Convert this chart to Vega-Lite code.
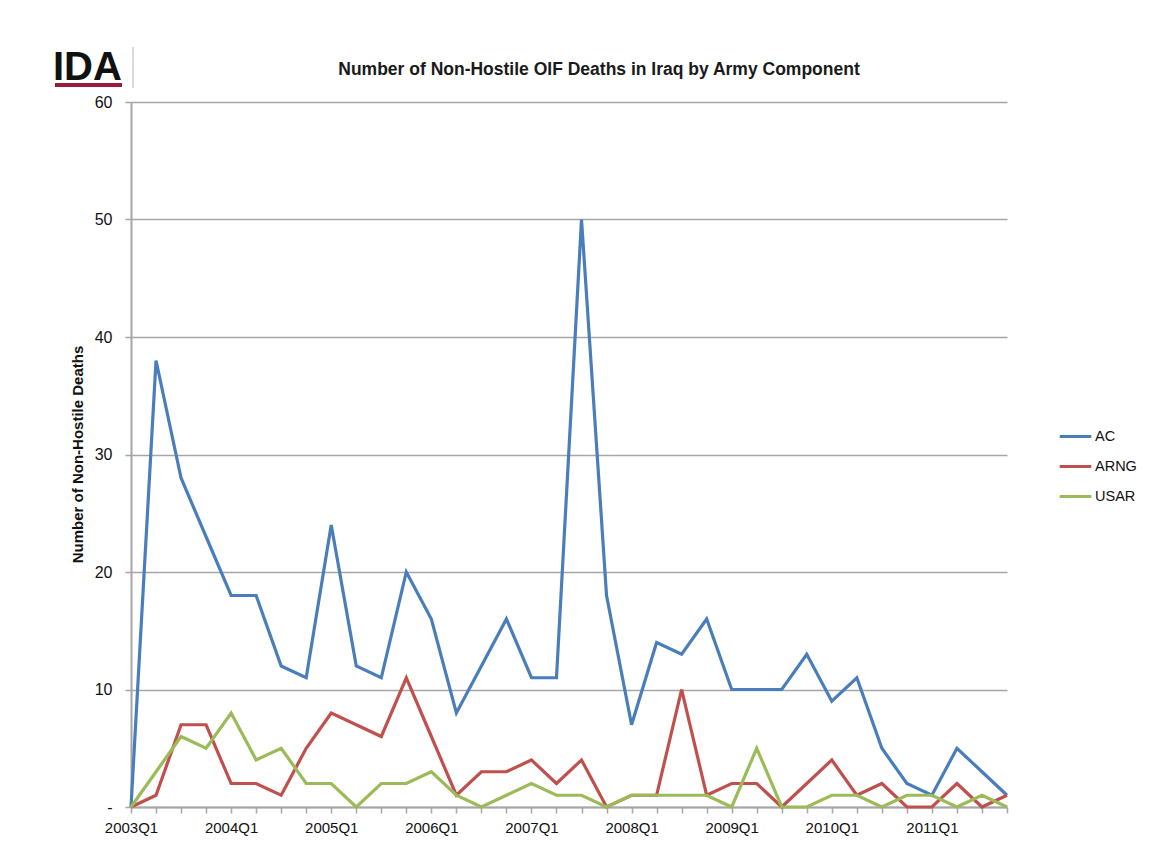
{
  "$schema": "https://vega.github.io/schema/vega-lite/v6.json",
  "width": 876,
  "height": 705,
  "autosize": {"type": "none"},
  "padding": {"left": 131, "top": 102, "right": 167, "bottom": 34},
  "background": "#ffffff",
  "title": {
    "text": "Number of Non-Hostile OIF Deaths in Iraq by Army Component",
    "anchor": "middle",
    "frame": "group",
    "dx": 30,
    "dy": 50,
    "offset": 18,
    "font": "Liberation Sans",
    "fontSize": 17.5,
    "fontWeight": "bold",
    "color": "#1a1a1a"
  },
  "data": {
    "values": [
      {"q": "2003Q1", "AC": 0, "ARNG": 0, "USAR": 0},
      {"q": "2003Q2", "AC": 38, "ARNG": 1, "USAR": 3},
      {"q": "2003Q3", "AC": 28, "ARNG": 7, "USAR": 6},
      {"q": "2003Q4", "AC": 23, "ARNG": 7, "USAR": 5},
      {"q": "2004Q1", "AC": 18, "ARNG": 2, "USAR": 8},
      {"q": "2004Q2", "AC": 18, "ARNG": 2, "USAR": 4},
      {"q": "2004Q3", "AC": 12, "ARNG": 1, "USAR": 5},
      {"q": "2004Q4", "AC": 11, "ARNG": 5, "USAR": 2},
      {"q": "2005Q1", "AC": 24, "ARNG": 8, "USAR": 2},
      {"q": "2005Q2", "AC": 12, "ARNG": 7, "USAR": 0},
      {"q": "2005Q3", "AC": 11, "ARNG": 6, "USAR": 2},
      {"q": "2005Q4", "AC": 20, "ARNG": 11, "USAR": 2},
      {"q": "2006Q1", "AC": 16, "ARNG": 6, "USAR": 3},
      {"q": "2006Q2", "AC": 8, "ARNG": 1, "USAR": 1},
      {"q": "2006Q3", "AC": 12, "ARNG": 3, "USAR": 0},
      {"q": "2006Q4", "AC": 16, "ARNG": 3, "USAR": 1},
      {"q": "2007Q1", "AC": 11, "ARNG": 4, "USAR": 2},
      {"q": "2007Q2", "AC": 11, "ARNG": 2, "USAR": 1},
      {"q": "2007Q3", "AC": 50, "ARNG": 4, "USAR": 1},
      {"q": "2007Q4", "AC": 18, "ARNG": 0, "USAR": 0},
      {"q": "2008Q1", "AC": 7, "ARNG": 1, "USAR": 1},
      {"q": "2008Q2", "AC": 14, "ARNG": 1, "USAR": 1},
      {"q": "2008Q3", "AC": 13, "ARNG": 10, "USAR": 1},
      {"q": "2008Q4", "AC": 16, "ARNG": 1, "USAR": 1},
      {"q": "2009Q1", "AC": 10, "ARNG": 2, "USAR": 0},
      {"q": "2009Q2", "AC": 10, "ARNG": 2, "USAR": 5},
      {"q": "2009Q3", "AC": 10, "ARNG": 0, "USAR": 0},
      {"q": "2009Q4", "AC": 13, "ARNG": 2, "USAR": 0},
      {"q": "2010Q1", "AC": 9, "ARNG": 4, "USAR": 1},
      {"q": "2010Q2", "AC": 11, "ARNG": 1, "USAR": 1},
      {"q": "2010Q3", "AC": 5, "ARNG": 2, "USAR": 0},
      {"q": "2010Q4", "AC": 2, "ARNG": 0, "USAR": 1},
      {"q": "2011Q1", "AC": 1, "ARNG": 0, "USAR": 1},
      {"q": "2011Q2", "AC": 5, "ARNG": 2, "USAR": 0},
      {"q": "2011Q3", "AC": 3, "ARNG": 0, "USAR": 1},
      {"q": "2011Q4", "AC": 1, "ARNG": 1, "USAR": 0}
    ]
  },
  "layer": [
    {
      "transform": [{"fold": ["AC", "ARNG", "USAR"], "as": ["component", "deaths"]}],
      "mark": {"type": "line", "strokeWidth": 3.2, "strokeJoin": "miter", "clip": false},
      "encoding": {
        "x": {
          "field": "q",
          "type": "ordinal",
          "sort": null,
          "scale": {"type": "point", "padding": 0},
          "axis": {
            "title": null,
            "labelAngle": 0,
            "labelOverlap": false,
            "labelExpr": "indexof(datum.value, 'Q1') > 0 ? datum.value : ''",
            "labelPadding": 7,
            "labelFontSize": 15,
            "grid": false
          }
        },
        "y": {
          "field": "deaths",
          "type": "quantitative",
          "scale": {"domain": [0, 60], "nice": false},
          "axis": {
            "values": [0, 10, 20, 30, 40, 50, 60],
            "labelExpr": "datum.value === 0 ? '-' : datum.label",
            "labelPadding": 13,
            "labelFontSize": 16,
            "title": "Number of Non-Hostile Deaths",
            "titleFontSize": 15,
            "titleFontWeight": "bold",
            "titleAngle": -90,
            "titleX": -54,
            "titleY": 352,
            "titleAlign": "center",
            "titleBaseline": "middle",
            "grid": true
          }
        },
        "color": {
          "field": "component",
          "type": "nominal",
          "scale": {"domain": ["AC", "ARNG", "USAR"], "range": ["#4a7ebb", "#c0504d", "#9bbb59"]},
          "legend": {
            "title": null,
            "orient": "none",
            "legendX": 927,
            "legendY": 317,
            "symbolType": "stroke",
            "symbolSize": 1000,
            "symbolStrokeWidth": 3,
            "rowPadding": 6,
            "labelOffset": 2,
            "labelFontSize": 14.5
          }
        }
      }
    },
    {
      "data": {"values": [{}]},
      "mark": {"type": "text", "text": "IDA", "font": "Liberation Sans", "fontSize": 40, "fontWeight": "bold", "align": "left", "baseline": "alphabetic", "dx": -78, "dy": -22, "color": "#111111"},
      "encoding": {
        "x": {"datum": "2003Q1", "type": "ordinal"},
        "y": {"datum": 60, "type": "quantitative"}
      }
    },
    {
      "data": {"values": [{}]},
      "mark": {"type": "rule", "stroke": "#9b1b3a", "strokeWidth": 4, "xOffset": -76, "x2Offset": -9, "yOffset": -17},
      "encoding": {
        "x": {"datum": "2003Q1", "type": "ordinal"},
        "x2": {"datum": "2003Q1"},
        "y": {"datum": 60, "type": "quantitative"}
      }
    },
    {
      "data": {"values": [{}]},
      "mark": {"type": "rule", "stroke": "#b5b5b5", "strokeWidth": 1, "xOffset": 2, "yOffset": -55, "y2Offset": -14},
      "encoding": {
        "x": {"datum": "2003Q1", "type": "ordinal"},
        "y": {"datum": 60, "type": "quantitative"},
        "y2": {"datum": 60}
      }
    }
  ],
  "config": {
    "view": {"stroke": null},
    "font": "Liberation Sans",
    "axis": {
      "domainColor": "#a6a6a6",
      "domainWidth": 2,
      "tickColor": "#a6a6a6",
      "tickWidth": 1.5,
      "tickSize": 6,
      "gridColor": "#a6a6a6",
      "gridWidth": 1.5,
      "labelColor": "#111111",
      "titleColor": "#111111",
      "labelFont": "Liberation Sans",
      "titleFont": "Liberation Sans"
    },
    "legend": {
      "labelColor": "#111111",
      "labelFont": "Liberation Sans"
    }
  }
}
